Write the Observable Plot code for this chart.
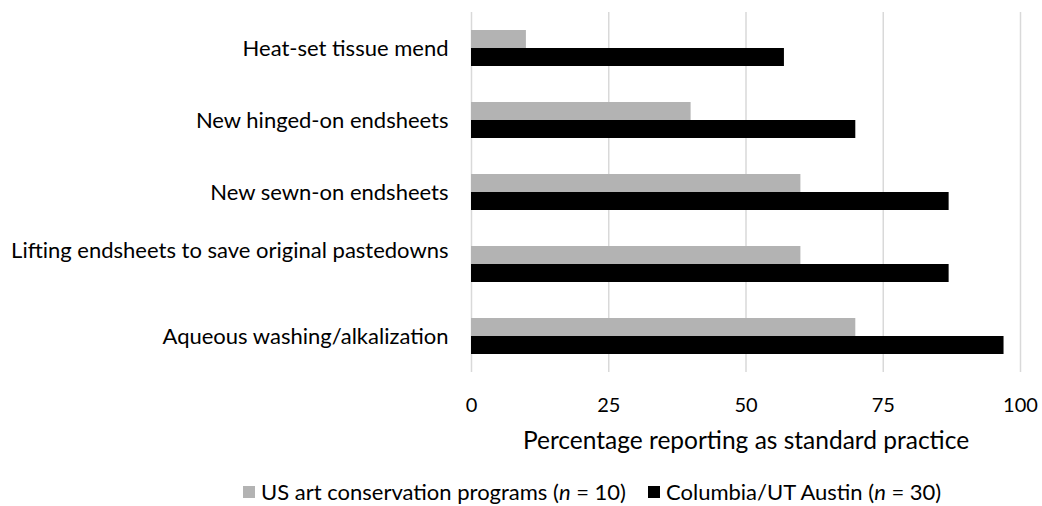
<!DOCTYPE html>
<html>
<head>
<meta charset="utf-8">
<script src="https://cdn.jsdelivr.net/npm/d3@7"></script>
<script src="https://cdn.jsdelivr.net/npm/@observablehq/plot@0.6"></script>
<style>
  body { margin: 0; background: #fff; font-family: Lato, "Open Sans", sans-serif; }
  #legend { position: relative; height: 30px; font-size: 22px; color: #000; line-height: 30px; }
  .item { position: absolute; top: 0; display: flex; align-items: center; white-space: nowrap; }
  .sw { width: 12px; height: 12px; margin-right: 6px; display: inline-block; }
</style>
</head>
<body>
<div id="chart"></div>
<div id="legend"></div>
<script>
const categories = [
  "Heat-set tissue mend",
  "New hinged-on endsheets",
  "New sewn-on endsheets",
  "Lifting endsheets to save original pastedowns",
  "Aqueous washing/alkalization"
];
const seriesNames = ["US art conservation programs", "Columbia/UT Austin"];
const seriesN = [10, 30];
const usPrograms = [10, 40, 60, 60, 70];
const columbiaUT = [57, 70, 87, 87, 97];
const xTicks = [0, 25, 50, 75, 100];
const seriesColors = ["#b3b3b3", "#000000"];

const data = categories.flatMap((c, i) => [
  {category: c, series: seriesNames[0], value: usPrograms[i]},
  {category: c, series: seriesNames[1], value: columbiaUT[i]}
]);

const lifting = categories[3];

const chart = Plot.plot({
  width: 1042,
  height: 477,
  marginTop: 10,
  marginBottom: 104,
  marginLeft: 471,
  marginRight: 22,
  style: {fontFamily: "Lato, 'Open Sans', sans-serif", fontSize: "20px", color: "#000", background: "#fff"},
  x: {domain: [0, 100]},
  fy: {domain: categories, padding: 0, label: null, axis: null},
  y: {domain: seriesNames, paddingInner: 0, paddingOuter: 0.91, axis: null},
  color: {domain: seriesNames, range: seriesColors},
  marks: [
    Plot.gridX(xTicks, {stroke: "#d9d9d9", strokeOpacity: 1, strokeWidth: 1.5}),
    Plot.barX(data, {x: "value", y: "series", fy: "category", fill: "series"}),
    Plot.axisX(xTicks, {tickSize: 0, tickPadding: 25, label: null, fontSize: 20}),
    Plot.axisX([], {tickSize: 0, label: "Percentage reporting as standard practice", labelAnchor: "center", labelArrow: "none", labelOffset: 76, fontSize: 24.5}),
    Plot.text(categories.filter(c => c !== lifting), {fy: d => d, text: d => d, frameAnchor: "left", textAnchor: "end", dx: -23, fontSize: 22, fill: "#000"}),
    Plot.text([lifting], {fy: d => d, text: d => d, frameAnchor: "left", textAnchor: "end", dx: -23, dy: -14, fontSize: 22, fill: "#000"})
  ]
});
document.getElementById("chart").appendChild(chart);

const legend = document.getElementById("legend");
const legendLeft = [243, 648];
seriesNames.forEach((name, i) => {
  const item = document.createElement("span");
  item.className = "item";
  item.style.left = legendLeft[i] + "px";
  item.innerHTML = `<span class="sw" style="background:${seriesColors[i]}"></span>${name}&nbsp;(<i>n</i>&nbsp;=&nbsp;${seriesN[i]})`;
  legend.appendChild(item);
});
</script>
</body>
</html>
